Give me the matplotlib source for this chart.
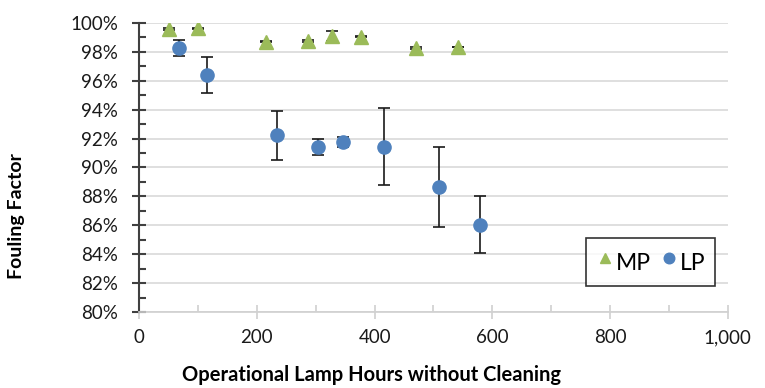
import numpy as np
import matplotlib.pyplot as plt
from matplotlib.ticker import MultipleLocator, FuncFormatter

plt.rcParams['font.family'] = ['Lato', 'DejaVu Sans']

# MP (medium pressure) lamps
mp_hours = [51, 100, 216, 286, 328, 376, 470, 541]
mp_factor = [99.56, 99.60, 98.69, 98.74, 99.10, 99.03, 98.25, 98.34]
mp_err = [0.05, 0.05, 0.05, 0.05, 0.35, 0.05, 0.05, 0.0]

# LP (low pressure) lamps
lp_hours = [68, 116, 234, 303, 346, 416, 510, 579]
lp_factor = [98.27, 96.39, 92.22, 91.42, 91.76, 91.44, 88.65, 86.05]
lp_err = [0.55, 1.27, 1.70, 0.58, 0.33, 2.68, 2.74, 1.98]

MP_COLOR = '#9BBB59'
LP_COLOR = '#4F81BD'

fig = plt.figure(figsize=(7.65, 3.88), dpi=100)
ax = fig.add_axes([139.2 / 765, 1 - 312.3 / 388, (727.8 - 139.2) / 765, (312.3 - 22.7) / 388])

ax.errorbar(mp_hours, mp_factor, yerr=mp_err, fmt='^', color=MP_COLOR, ms=9.5,
            ecolor='#1a1a1a', elinewidth=1.2, capsize=4, capthick=1.2, label='MP', zorder=3)
ax.errorbar(lp_hours, lp_factor, yerr=lp_err, fmt='o', color=LP_COLOR, ms=9.5,
            ecolor='#1a1a1a', elinewidth=1.2, capsize=4, capthick=1.2, label='LP', zorder=3)

ax.set_xlim(0, 1000)
ax.set_ylim(80, 100)
ax.xaxis.set_major_locator(MultipleLocator(200))
ax.xaxis.set_minor_locator(MultipleLocator(100))
ax.yaxis.set_major_locator(MultipleLocator(2))
ax.yaxis.set_minor_locator(MultipleLocator(1))
ax.xaxis.set_major_formatter(FuncFormatter(lambda v, p: f'{v:,.0f}'))
ax.yaxis.set_major_formatter(FuncFormatter(lambda v, p: f'{v:.0f}%'))

ax.grid(axis='y', color='#d9d9d9', lw=1.2, zorder=0)
ax.set_axisbelow(True)
for s in ['top', 'right']:
    ax.spines[s].set_visible(False)
ax.spines['left'].set_color('#404040')
ax.spines['left'].set_linewidth(1.5)
ax.spines['bottom'].set_color('#d0d0d0')
ax.spines['bottom'].set_linewidth(1.2)

ax.tick_params(axis='y', which='major', direction='inout', length=10, width=1.5, color='#404040',
               labelsize=13.5, labelcolor='#1a1a1a', pad=10)
ax.tick_params(axis='y', which='minor', direction='in', length=5, width=1.5, color='#404040')
ax.tick_params(axis='x', which='major', direction='inout', length=10, width=1.2, color='#d0d0d0',
               labelsize=13.5, labelcolor='#1a1a1a', pad=7)
ax.tick_params(axis='x', which='minor', direction='in', length=5, width=1.2, color='#d0d0d0')

fig.text(17 / 765, 1 - 216 / 388, 'Fouling Factor', fontsize=14, fontweight='bold',
         rotation=90, ha='center', va='center')
fig.text(371 / 765, 1 - 375 / 388, 'Operational Lamp Hours without Cleaning', fontsize=14.5,
         fontweight='bold', ha='center', va='center')

handles, labels = ax.get_legend_handles_labels()
handles = [h[0] for h in handles]
leg = ax.legend(handles, labels, ncol=2, loc='lower right', bbox_to_anchor=(0.978, 0.091),
                borderaxespad=0, fontsize=16.5, frameon=True, fancybox=False,
                handletextpad=0.1, columnspacing=0.35, handlelength=0.8, handleheight=1.6,
                borderpad=0.4, markerscale=0.8)
leg.get_frame().set_edgecolor('#000000')
leg.get_frame().set_linewidth(1.2)

fig.savefig('out.png', dpi=100)
